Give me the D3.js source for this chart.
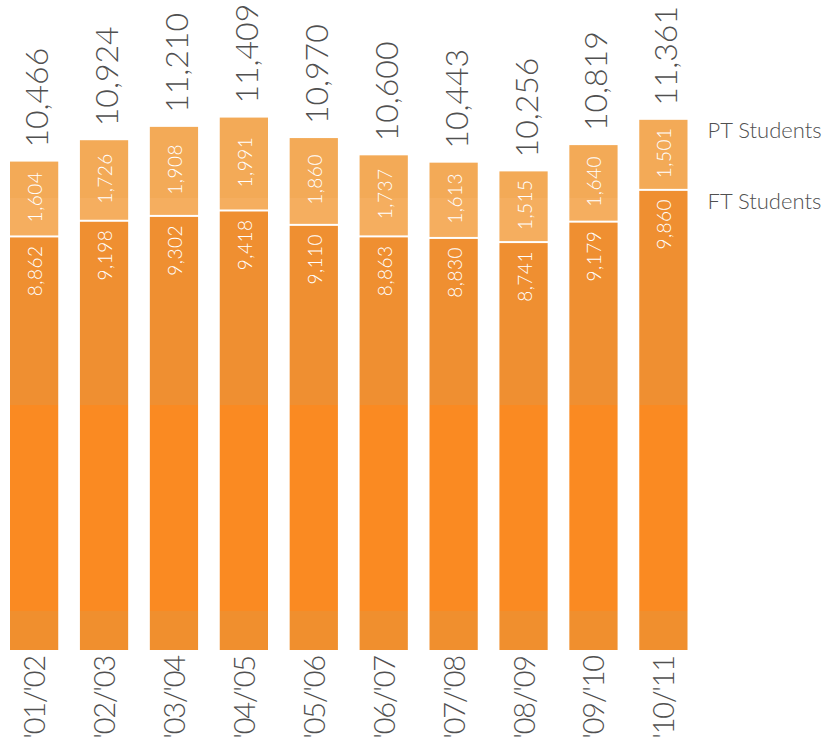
<!DOCTYPE html>
<html>
<head>
<meta charset="utf-8">
<script src="https://cdn.jsdelivr.net/npm/d3@7/dist/d3.min.js"></script>
<style>
  html, body { margin: 0; padding: 0; background: #fff; }
  svg { display: block; font-family: "Lato", "Open Sans", sans-serif; }
</style>
</head>
<body>
<svg id="chart" width="831" height="741"></svg>
<script>
const years = ["'01/'02", "'02/'03", "'03/'04", "'04/'05", "'05/'06", "'06/'07", "'07/'08", "'08/'09", "'09/'10", "'10/'11"];
const ftStudents = [8862, 9198, 9302, 9418, 9110, 8863, 8830, 8741, 9179, 9860];
const ptStudents = [1604, 1726, 1908, 1991, 1860, 1737, 1613, 1515, 1640, 1501];
const totals = [10466, 10924, 11210, 11409, 10970, 10600, 10443, 10256, 10819, 11361];
const seriesNames = ["PT Students", "FT Students"];

const svg = d3.select("#chart");
const W = 831, H = 741;
const baseY = 650;

const x = d3.scaleBand().domain(years).range([10, 687.5]).paddingInner(0.31).paddingOuter(0);
const y = d3.scaleLinear().domain([0, 12000]).range([baseY, 90]);

const defs = svg.append("defs");
// FT gradient with banded tones (as in reference)
const ftGrad = defs.append("linearGradient").attr("id", "ftGrad")
  .attr("gradientUnits", "userSpaceOnUse").attr("x1", 0).attr("x2", 0).attr("y1", 0).attr("y2", H);
[[0, "#ef8f31"], [405 / H, "#ef8f31"], [405 / H, "#fa8a22"], [611 / H, "#fa8a22"], [611 / H, "#f08f2e"], [1, "#f08f2e"]]
  .forEach(([o, c]) => ftGrad.append("stop").attr("offset", o).attr("stop-color", c));
const ptGrad = defs.append("linearGradient").attr("id", "ptGrad")
  .attr("gradientUnits", "userSpaceOnUse").attr("x1", 0).attr("x2", 0).attr("y1", 0).attr("y2", H);
[[0, "#f3aa57"], [198 / H, "#f3aa57"], [198 / H, "#f5ae5f"], [1, "#f5ae5f"]]
  .forEach(([o, c]) => ptGrad.append("stop").attr("offset", o).attr("stop-color", c));

const data = years.map((yr, i) => ({ yr, ft: ftStudents[i], pt: ptStudents[i], total: totals[i] }));

const g = svg.append("g");

// FT bars
g.selectAll("rect.ft").data(data).join("rect").attr("class", "ft")
  .attr("x", d => x(d.yr)).attr("width", x.bandwidth())
  .attr("y", d => y(d.ft) + 1).attr("height", d => baseY - y(d.ft) - 1)
  .attr("fill", "url(#ftGrad)");

// PT bars
g.selectAll("rect.pt").data(data).join("rect").attr("class", "pt")
  .attr("x", d => x(d.yr)).attr("width", x.bandwidth())
  .attr("y", d => y(d.ft + d.pt)).attr("height", d => y(d.ft) - y(d.ft + d.pt) - 1)
  .attr("fill", "url(#ptGrad)");

// Total labels
g.selectAll("text.total").data(data).join("text").attr("class", "total")
  .attr("transform", d => `translate(${x(d.yr) + x.bandwidth() / 2 + 14},${y(d.total) - 14}) rotate(-90)`)
  .attr("text-anchor", "start")
  .attr("font-size", 32).attr("font-weight", 300).attr("fill", "#505050")
  .text(d => d3.format(",")(d.total));

// PT inner labels
g.selectAll("text.ptl").data(data).join("text").attr("class", "ptl")
  .attr("transform", d => `translate(${x(d.yr) + x.bandwidth() / 2 + 8},${(y(d.ft) + y(d.ft + d.pt)) / 2 - 2}) rotate(-90)`)
  .attr("text-anchor", "middle")
  .attr("font-size", 19).attr("font-weight", 300).attr("fill", "#fff")
  .attr("letter-spacing", 0.5)
  .text(d => d3.format(",")(d.pt));

// FT inner labels
g.selectAll("text.ftl").data(data).join("text").attr("class", "ftl")
  .attr("transform", d => `translate(${x(d.yr) + x.bandwidth() / 2 + 8},${y(d.ft) + 9}) rotate(-90)`)
  .attr("text-anchor", "end")
  .attr("font-size", 19).attr("font-weight", 300).attr("fill", "#fff")
  .attr("letter-spacing", 0.5)
  .text(d => d3.format(",")(d.ft));

// Category labels (x axis)
const xAxis = d3.axisBottom(x).tickSize(0).tickPadding(0);
const ax = svg.append("g").attr("transform", `translate(0,${baseY})`).call(xAxis);
ax.select(".domain").remove();
ax.selectAll(".tick text")
  .attr("transform", "translate(11,6) rotate(-90)")
  .attr("x", 0).attr("y", 0).attr("dy", 0)
  .attr("text-anchor", "end")
  .attr("font-family", "Lato, 'Open Sans', sans-serif")
  .attr("font-size", 29).attr("font-weight", 300).attr("fill", "#505050")
  .attr("letter-spacing", -1.2);

// Legend next to last bar
const last = data[data.length - 1];
const legendX = x(last.yr) + x.bandwidth() + 20;
const legendY = [y(last.total) + 18, y(last.ft) + 19];
svg.selectAll("text.legend").data(seriesNames).join("text").attr("class", "legend")
  .attr("x", legendX).attr("y", (d, i) => legendY[i])
  .attr("font-size", 22).attr("font-weight", 300).attr("fill", "#505050")
  .text(d => d);
</script>
</body>
</html>
